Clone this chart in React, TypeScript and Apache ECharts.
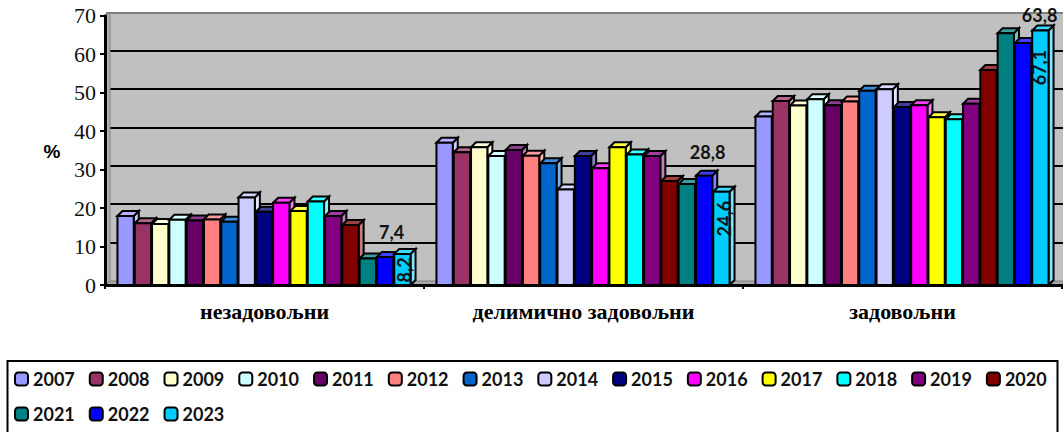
import React, { useEffect, useRef } from "react";
import * as echarts from "echarts";

const categories = ["незадовољни", "делимично задовољни", "задовољни"];
const years = ["2007","2008","2009","2010","2011","2012","2013","2014","2015","2016","2017","2018","2019","2020","2021","2022","2023"];
const colors = ["#9999FF","#993366","#FFFFCC","#CCFFFF","#660066","#FF8080","#0066CC","#CCCCFF","#000080","#FF00FF","#FFFF00","#00FFFF","#800080","#800000","#008080","#0000FF","#00CCFF"];
const unsatisfied = [18.2,16.3,16.1,17.2,17.0,17.3,16.7,23.1,19.3,21.7,19.5,22.0,18.2,15.8,7.0,7.4,8.2];
const partly = [37.5,35.0,36.3,34.0,35.6,34.1,32.1,25.2,34.0,30.8,36.3,34.4,34.0,27.4,26.6,28.8,24.6];
const satisfied = [44.4,48.5,47.3,49.0,47.4,48.4,51.2,51.6,46.9,47.4,44.2,43.7,47.8,56.7,66.4,63.8,67.1];

// Hand-placed data labels in the original: offset from the top centre of the bar's front face.
const labelPlacement: Record<string, { dx: number; dy: number; rotate: number }> = {
  "15-0": { dx: 6, dy: -25, rotate: 0 },
  "16-0": { dx: 1, dy: 16, rotate: Math.PI / 2 },
  "15-1": { dx: 3, dy: -24, rotate: 0 },
  "16-1": { dx: 2, dy: 27, rotate: Math.PI / 2 },
  "15-2": { dx: 16, dy: -28, rotate: 0 },
  "16-2": { dx: -2, dy: 37, rotate: Math.PI / 2 },
};

const PITCH = 17.3;
const DEPTH = 5;

export default function App() {
  const ref = useRef<HTMLDivElement>(null);
  useEffect(() => {
    const chart = echarts.init(ref.current!, undefined, { renderer: "svg" });
    const rows = [unsatisfied, partly, satisfied];
    const series: any[] = years.map((year, s) => ({
      name: year,
      type: "custom",
      xAxisIndex: 0,
      yAxisIndex: 2,
      itemStyle: { color: colors[s] },
      z: 10 + s,
      clip: false,
      data: rows.map((r, c) => [c, r[s]]),
      renderItem: (_p: any, api: any) => {
        const c = api.value(0);
        const v = api.value(1);
        const [cx, top] = api.coord([c, v]);
        const [, base] = api.coord([c, 0]);
        const x0 = cx + (s - 8.5) * PITCH;
        const x1 = x0 + PITCH - 1;
        const col = colors[s];
        const stroke = { stroke: "#000", lineWidth: 2 };
        const children: any[] = [
          { type: "polygon", shape: { points: [[x1, base], [x1 + DEPTH, base - DEPTH], [x1 + DEPTH, top - DEPTH], [x1, top]] }, style: { fill: echarts.color.lift(col, 0.5), ...stroke } },
          { type: "polygon", shape: { points: [[x0, top], [x0 + DEPTH, top - DEPTH], [x1 + DEPTH, top - DEPTH], [x1, top]] }, style: { fill: echarts.color.lift(col, 0.25), ...stroke } },
          { type: "rect", shape: { x: x0, y: top, width: x1 - x0, height: base - top }, style: { fill: col, ...stroke } },
        ];
        const place = labelPlacement[`${s}-${c}`];
        if (place) {
          children.push({
            type: "text",
            x: cx + (s - 8) * PITCH + place.dx,
            y: top + place.dy,
            rotation: place.rotate,
            style: {
              text: v.toFixed(1).replace(".", ","),
              fill: "#111",
              fontFamily: "Lato, sans-serif",
              fontWeight: "bold",
              fontSize: 18,
              align: "center",
              verticalAlign: "middle",
            },
          });
        }
        return { type: "group", children };
      },
    }));

    chart.setOption({
      animation: false,
      backgroundColor: "#fff",
      grid: [
        { left: 105, top: 15.7, width: 957, height: 269.3 },
        { left: 110, top: 12, width: 953, height: 269, show: true, backgroundColor: "#C0C0C0", borderWidth: 0 },
      ],
      xAxis: [
        {
          type: "category", gridIndex: 0, data: categories, z: 5,
          axisLine: { lineStyle: { color: "#000", width: 3 } },
          axisTick: { show: true, length: 4, lineStyle: { color: "#000", width: 2 } },
          axisLabel: { color: "#000", margin: 15, fontFamily: '"Liberation Serif", serif', fontWeight: "bold", fontSize: 22 },
        },
        { type: "category", gridIndex: 1, data: categories, show: false },
      ],
      yAxis: [
        {
          type: "value", gridIndex: 0, min: 0, max: 70, interval: 10, z: 5,
          axisLine: { show: true, lineStyle: { color: "#000", width: 3 } },
          axisTick: { show: true, length: 5, lineStyle: { color: "#000", width: 2 } },
          axisLabel: { color: "#111", margin: 9, fontFamily: '"Liberation Serif", serif', fontSize: 22 },
          splitLine: { show: false },
        },
        {
          type: "value", gridIndex: 1, min: 0, max: 70, interval: 10,
          axisLine: { show: false }, axisTick: { show: false }, axisLabel: { show: false },
          splitLine: { show: true, showMinLine: false, showMaxLine: false, lineStyle: { color: "#000", width: 2 } },
        },
        { type: "value", gridIndex: 0, min: 0, max: 71, show: false, splitLine: { show: false } },
      ],
      legend: {
        left: 14, top: 368.5, width: 1046, padding: 0,
        itemGap: 14, itemWidth: 13, itemHeight: 13, icon: "roundRect",
        data: years,
        itemStyle: { borderColor: "#000", borderWidth: 2 },
        textStyle: { color: "#111", fontFamily: "Lato, sans-serif", fontWeight: "bold", fontSize: 18, lineHeight: 21 },
      },
      graphic: [
        { type: "polygon", z: 1, shape: { points: [[105, 16], [110, 12], [110, 281], [105, 285]] }, style: { fill: "#B0B0B0", stroke: "#808080", lineWidth: 1 } },
        { type: "polygon", z: 1, shape: { points: [[105, 285], [110, 281], [1063, 281], [1063, 285]] }, style: { fill: "#A8A8A8", stroke: "#808080", lineWidth: 1 } },
        { type: "line", z: 1, shape: { x1: 106, y1: 13, x2: 1063, y2: 13 }, style: { stroke: "#808080", lineWidth: 2 } },
        { type: "text", x: 52, y: 151, style: { text: "%", fill: "#000", fontFamily: '"Liberation Sans", sans-serif', fontWeight: "bold", fontSize: 19, align: "center", verticalAlign: "middle" } },
        { type: "rect", z: 1, shape: { x: 7.5, y: 361, width: 1050, height: 90 }, style: { fill: "none", stroke: "#000", lineWidth: 2 } },
      ],
      series,
    });
    return () => chart.dispose();
  }, []);
  return <div ref={ref} style={{ position: "absolute", left: 0, top: 0, width: 1063, height: 432 }} />;
}
